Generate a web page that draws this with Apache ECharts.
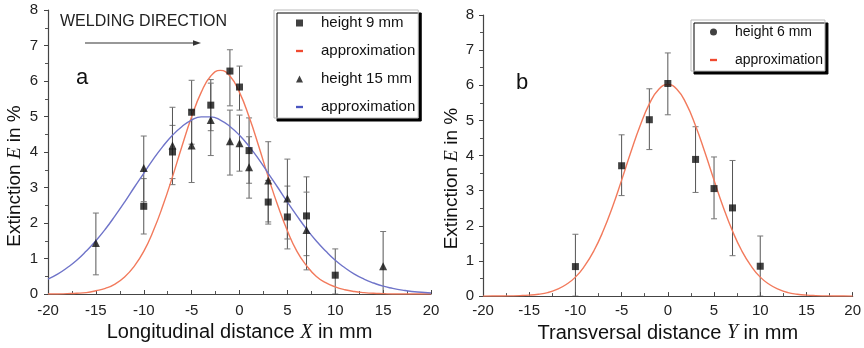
<!DOCTYPE html>
<html>
<head>
<meta charset="utf-8">
<script src="https://cdn.jsdelivr.net/npm/echarts@6/dist/echarts.min.js"></script>
<style>html,body{margin:0;padding:0;background:#fff}#c{width:864px;height:348px}</style>
</head>
<body>
<div id="c"></div>
<script>
// ---- Panel a: longitudinal ----
var x9 = [-10, -7, -5, -3, -1, 0, 1, 3, 5, 7, 10];
var y9 = [2.47, 4.0, 5.12, 5.32, 6.28, 5.83, 4.04, 2.59, 2.17, 2.2, 0.53];
var lo9 = [1.69, 3.25, 4.22, 4.6, 5.3, 5.18, 3.12, 2.03, 1.27, 1.08, 0];
var hi9 = [3.25, 4.75, 6.02, 6.04, 6.88, 6.42, 4.96, 3.2, 3.04, 3.3, 1.27];

var x15 = [-15, -10, -7, -5, -3, -1, 0, 1, 3, 5, 7, 15];
var y15 = [1.44, 3.55, 4.18, 4.18, 4.9, 4.3, 4.25, 3.57, 3.2, 2.69, 1.8, 0.78];
var lo15 = [0.54, 2.6, 3.08, 3.14, 3.9, 3.35, 3.46, 2.7, 1.97, 1.55, 0.68, 0];
var hi15 = [2.28, 4.45, 5.26, 5.18, 5.94, 5.18, 5.04, 4.43, 4.29, 3.8, 2.87, 1.76];

var fitX = [-20,-19,-18,-17,-16,-15,-14,-13,-12,-11,-10,-9,-8,-7,-6,-5,-4,-3,-2,-1,0,1,2,3,4,5,6,7,8,9,10,11,12,13,14,15,16,17,18,19,20];
var fit9 = [0,0,0.01,0.02,0.04,0.09,0.16,0.28,0.48,0.78,1.2,1.78,2.49,3.3,4.17,4.99,5.68,6.14,6.3,6.14,5.68,4.99,4.17,3.3,2.49,1.78,1.2,0.8,0.5,0.32,0.2,0.12,0.07,0.04,0.02,0.01,0,0,0,0,0];
var fit15 = [0.42,0.56,0.74,0.95,1.21,1.5,1.83,2.2,2.59,3.0,3.4,3.8,4.16,4.47,4.72,4.9,4.99,4.99,4.9,4.72,4.47,4.16,3.8,3.4,3.0,2.59,2.2,1.83,1.5,1.21,0.95,0.74,0.56,0.42,0.31,0.22,0.16,0.11,0.07,0.05,0.03];

// ---- Panel b: transversal ----
var xb = [-10, -5, -2, 0, 3, 5, 7, 10];
var yb = [0.84, 3.71, 5.02, 6.05, 3.89, 3.06, 2.51, 0.85];
var lob = [0, 2.86, 4.17, 5.16, 2.95, 2.2, 1.15, 0];
var hib = [1.76, 4.59, 5.9, 6.92, 4.82, 3.96, 3.86, 1.71];
var fitB = [0,0.001,0.002,0.006,0.013,0.027,0.054,0.1,0.19,0.33,0.54,0.86,1.29,1.85,2.53,3.3,4.1,4.85,5.47,5.88,6.02,5.88,5.47,4.85,4.1,3.3,2.53,1.85,1.29,0.86,0.54,0.33,0.19,0.1,0.054,0.027,0.013,0.006,0.002,0.001,0];

var xTicks = [-20, -15, -10, -5, 0, 5, 10, 15, 20];
var yTicks = [0, 1, 2, 3, 4, 5, 6, 7, 8];

function zip() {
  var arrs = Array.prototype.slice.call(arguments);
  return arrs[0].map(function (_, i) { return arrs.map(function (a) { return a[i]; }); });
}

var FONT = 'Liberation Sans, Arial, sans-serif';
var RED = '#f27a5c';
var BLUE = '#6f74c9';

function errRender(params, api) {
  var x = api.value(0), lo = api.value(1), hi = api.value(2);
  var p1 = api.coord([x, lo]);
  var p2 = api.coord([x, hi]);
  var w = 3;
  var st = { stroke: '#555', lineWidth: 1 };
  var cst = { stroke: '#777', lineWidth: 1 };
  return {
    type: 'group',
    children: [
      { type: 'line', shape: { x1: p1[0], y1: p1[1], x2: p2[0], y2: p2[1] }, style: st },
      { type: 'line', shape: { x1: p2[0] - w, y1: p2[1], x2: p2[0] + w, y2: p2[1] }, style: cst },
      { type: 'line', shape: { x1: p1[0] - w, y1: p1[1], x2: p1[0] + w, y2: p1[1] }, style: cst }
    ]
  };
}

function xAxisCfg(gridIndex, name, gap, margin) {
  return {
    type: 'value', gridIndex: gridIndex, min: xTicks[0], max: xTicks[xTicks.length - 1], interval: 5,
    name: name, nameLocation: 'middle', nameGap: gap,
    nameTextStyle: { fontSize: 20, color: '#111', fontFamily: FONT,
      rich: { i: { fontSize: 20, fontStyle: 'italic', fontFamily: 'Liberation Serif, DejaVu Serif, serif', color: '#111' } } },
    axisLine: { show: true, onZero: false, lineStyle: { color: '#444', width: 1.2 } },
    axisTick: { show: true, inside: true, length: 4, lineStyle: { color: '#444' } },
    minorTick: { show: true, splitNumber: 2, length: 3, lineStyle: { color: '#555' } },
    axisLabel: { fontSize: 15, color: '#222', fontFamily: FONT, margin: margin },
    splitLine: { show: false }
  };
}

function yAxisCfg(gridIndex, gap, margin, pad) {
  return {
    type: 'value', gridIndex: gridIndex, min: yTicks[0], max: yTicks[yTicks.length - 1], interval: 1,
    name: 'Extinction {i|E} in %', nameLocation: 'middle', nameGap: gap, nameRotate: 90,
    nameTextStyle: { fontSize: 19, color: '#111', fontFamily: FONT, padding: [0, pad, 0, 0],
      rich: { i: { fontSize: 19, fontStyle: 'italic', fontFamily: 'Liberation Serif, DejaVu Serif, serif', color: '#111' } } },
    axisLine: { show: true, onZero: false, lineStyle: { color: '#444', width: 1.2 } },
    axisTick: { show: true, inside: false, length: 4, lineStyle: { color: '#444' } },
    minorTick: { show: true, splitNumber: 2, length: 3, lineStyle: { color: '#555' } },
    axisLabel: { fontSize: 15, color: '#222', fontFamily: FONT, margin: margin },
    splitLine: { show: false }
  };
}

var SQ = 'path://M0,0h1v1h-1z';
var TRI = 'path://M0.5,0L1,1H0z';
var DASH = 'path://M0,0h3v1h-3z';

var legendFmt = function (n) { return n.indexOf('approximation') === 0 ? 'approximation' : n; };

var option = {
  animation: false,
  backgroundColor: '#fff',
  textStyle: { fontFamily: FONT },
  grid: [
    { left: 48, top: 10, width: 383, height: 284 },
    { left: 483, top: 15, width: 374, height: 284 }
  ],
  xAxis: [
    xAxisCfg(0, 'Longitudinal distance {i|X} in mm', 28, 9),
    xAxisCfg(1, 'Transversal distance {i|Y} in mm', 25, 7)
  ],
  yAxis: [
    yAxisCfg(0, 24, 10, 48),
    yAxisCfg(1, 22, 9, 46)
  ],
  legend: [
    {
      orient: 'vertical', left: 274, top: 10, selectedMode: false,
      padding: [4, 3, 2, 22], itemGap: 10, itemWidth: 7, itemHeight: 7,
      backgroundColor: '#fff', borderColor: '#bbb', borderWidth: 1,
      shadowColor: '#000', shadowBlur: 0, shadowOffsetX: 3, shadowOffsetY: 3,
      formatter: legendFmt,
      textStyle: { fontSize: 15, color: '#111', fontFamily: FONT, lineHeight: 18, padding: [0, 0, 0, 13] },
      data: [
        { name: 'height 9 mm', icon: SQ, itemStyle: { color: '#111' } },
        { name: 'approximation (9 mm)', icon: DASH, itemStyle: { color: '#f04a30' } },
        { name: 'height 15 mm', icon: TRI, itemStyle: { color: '#111' } },
        { name: 'approximation (15 mm)', icon: DASH, itemStyle: { color: '#4a55c0' } }
      ]
    },
    {
      orient: 'vertical', left: 691, top: 20, selectedMode: false,
      padding: [3, 2, 2, 19], itemGap: 10, itemWidth: 7, itemHeight: 7,
      backgroundColor: '#fff', borderColor: '#bbb', borderWidth: 1,
      shadowColor: '#000', shadowBlur: 0, shadowOffsetX: 3, shadowOffsetY: 3,
      formatter: legendFmt,
      textStyle: { fontSize: 14, color: '#111', fontFamily: FONT, lineHeight: 18, padding: [0, 0, 0, 13] },
      data: [
        { name: 'height 6 mm', icon: 'circle', itemStyle: { color: '#111' } },
        { name: 'approximation (6 mm)', icon: DASH, itemStyle: { color: '#f04a30' } }
      ]
    }
  ],
  graphic: [
    { type: 'text', left: 60, top: 14, style: { text: 'WELDING DIRECTION', fontSize: 16, fill: '#222', fontFamily: FONT } },
    { type: 'line', shape: { x1: 85, y1: 43, x2: 196, y2: 43 }, style: { stroke: '#333', lineWidth: 1.2 } },
    { type: 'polygon', shape: { points: [[201, 43], [193, 40.3], [193, 45.7]] }, style: { fill: '#333' } },
    { type: 'text', left: 76, top: 67, style: { text: 'a', fontSize: 22, fill: '#111', fontFamily: FONT } },
    { type: 'text', left: 516, top: 72, style: { text: 'b', fontSize: 22, fill: '#111', fontFamily: FONT } }
  ],
  series: [
    { name: 'err9', type: 'custom', xAxisIndex: 0, yAxisIndex: 0, renderItem: errRender, data: zip(x9, lo9, hi9), encode: { x: 0, y: [1, 2] }, z: 2, clip: true, silent: true },
    { name: 'err15', type: 'custom', xAxisIndex: 0, yAxisIndex: 0, renderItem: errRender, data: zip(x15, lo15, hi15), encode: { x: 0, y: [1, 2] }, z: 2, clip: true, silent: true },
    { name: 'approximation (9 mm)', type: 'line', xAxisIndex: 0, yAxisIndex: 0, data: zip(fitX, fit9), smooth: true, showSymbol: false, lineStyle: { color: RED, width: 1.4 }, itemStyle: { color: RED }, z: 3 },
    { name: 'approximation (15 mm)', type: 'line', xAxisIndex: 0, yAxisIndex: 0, data: zip(fitX, fit15), smooth: true, showSymbol: false, lineStyle: { color: BLUE, width: 1.4 }, itemStyle: { color: BLUE }, z: 3 },
    { name: 'height 9 mm', type: 'scatter', xAxisIndex: 0, yAxisIndex: 0, data: zip(x9, y9), symbol: 'rect', symbolSize: 7, itemStyle: { color: '#111' }, z: 4 },
    { name: 'height 15 mm', type: 'scatter', xAxisIndex: 0, yAxisIndex: 0, data: zip(x15, y15), symbol: 'triangle', symbolSize: 8, itemStyle: { color: '#111' }, z: 4 },

    { name: 'err6', type: 'custom', xAxisIndex: 1, yAxisIndex: 1, renderItem: errRender, data: zip(xb, lob, hib), encode: { x: 0, y: [1, 2] }, z: 2, clip: true, silent: true },
    { name: 'approximation (6 mm)', type: 'line', xAxisIndex: 1, yAxisIndex: 1, data: zip(fitX, fitB), smooth: true, showSymbol: false, lineStyle: { color: RED, width: 1.4 }, itemStyle: { color: RED }, z: 3 },
    { name: 'height 6 mm', type: 'scatter', xAxisIndex: 1, yAxisIndex: 1, data: zip(xb, yb), symbol: 'rect', symbolSize: 7, itemStyle: { color: '#111' }, z: 4 }
  ]
};

var chart = echarts.init(document.getElementById('c'), null, { renderer: 'canvas' });
chart.setOption(option);
</script>
</body>
</html>
